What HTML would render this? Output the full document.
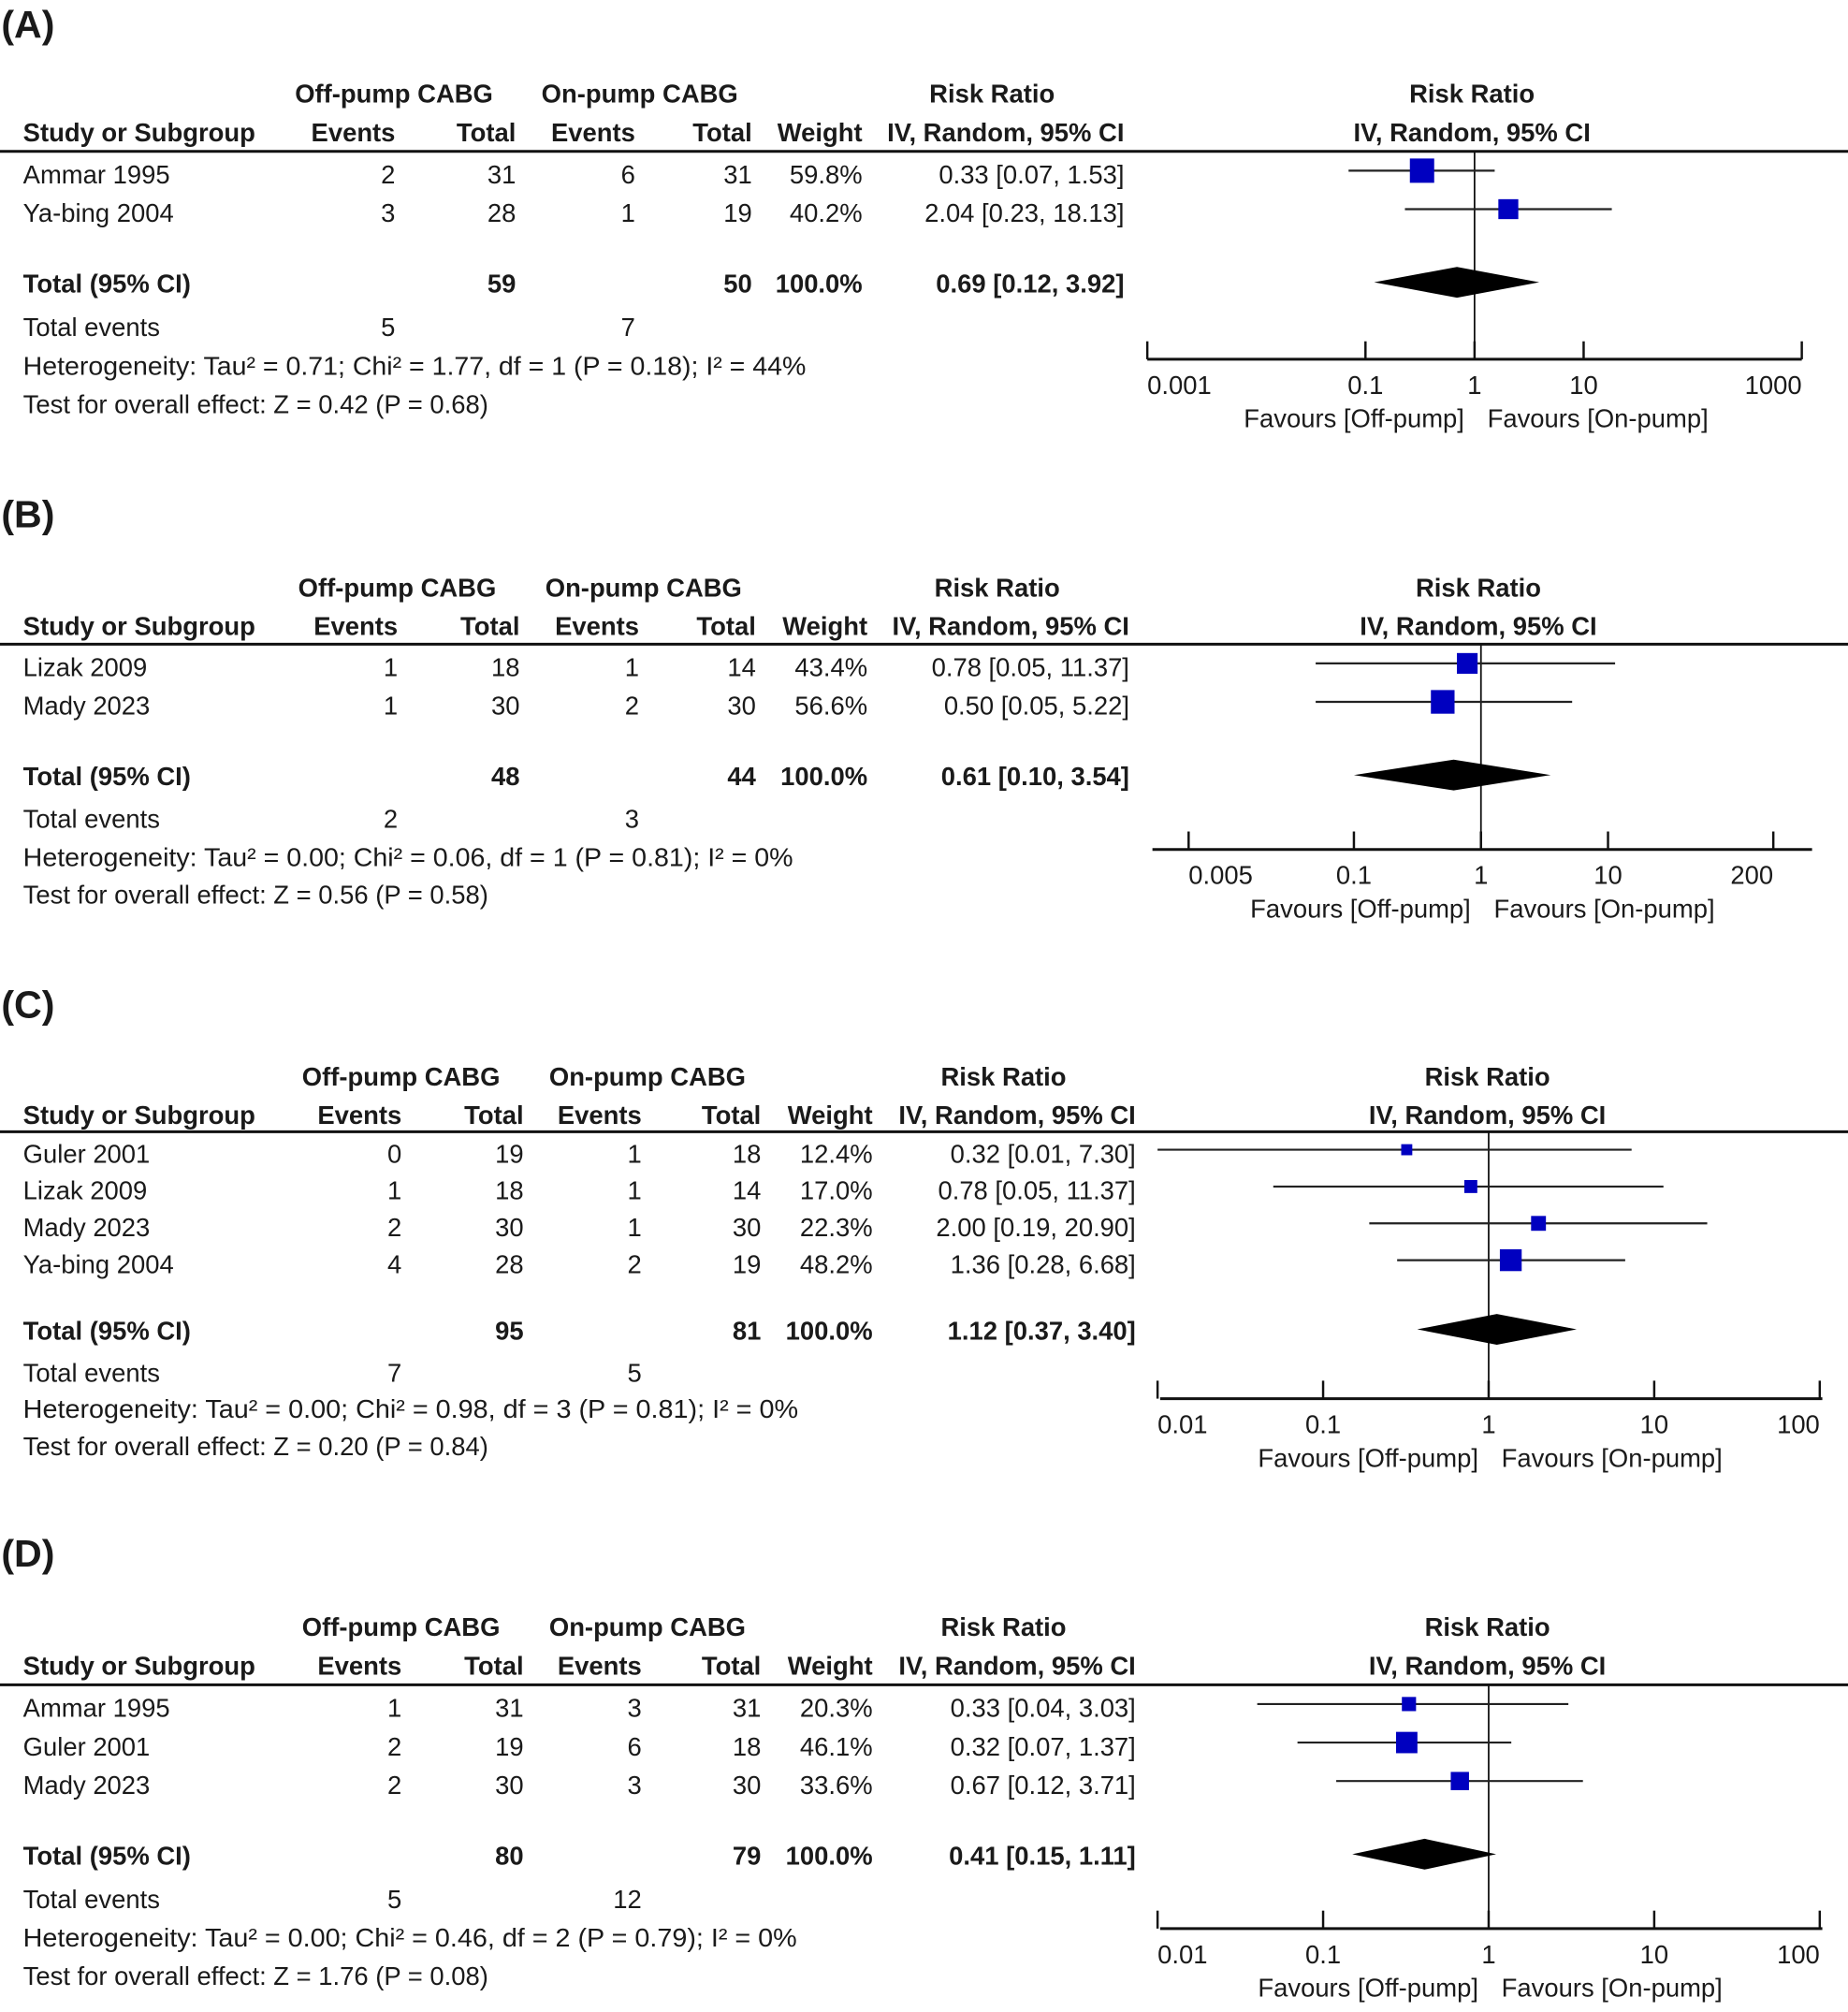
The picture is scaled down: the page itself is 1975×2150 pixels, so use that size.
<!DOCTYPE html>
<html><head><meta charset="utf-8"><style>
html,body{margin:0;padding:0;background:#fff;}
svg{display:block;}
text{font-family:"Liberation Sans",Arial,sans-serif;fill:#1a1a1a;font-size:20px;}
.b{font-weight:bold;}
</style></head><body>
<svg id="fig" width="1975" height="2150" viewBox="0 0 1440 1568" preserveAspectRatio="none" xmlns="http://www.w3.org/2000/svg"></svg>
<script>
// ---- Panel A data ----
const studiesA = ["Ammar 1995", "Ya-bing 2004"];
const offEvA = [2, 3]; const offTotA = [31, 28];
const onEvA = [6, 1]; const onTotA = [31, 19];
const weightA = [59.8, 40.2];
const rrA = [0.33, 2.04]; const lowA = [0.07, 0.23]; const highA = [1.53, 18.13];
const totA = [59, 50, 0.69, 0.12, 3.92]; const totEvA = [5, 7];
const ticksA = [0.001, 0.1, 1, 10, 1000];
const hetA = "Heterogeneity: Tau² = 0.71; Chi² = 1.77, df = 1 (P = 0.18); I² = 44%";
const testA = "Test for overall effect: Z = 0.42 (P = 0.68)";
// ---- Panel B data ----
const studiesB = ["Lizak 2009", "Mady 2023"];
const offEvB = [1, 1]; const offTotB = [18, 30];
const onEvB = [1, 2]; const onTotB = [14, 30];
const weightB = [43.4, 56.6];
const rrB = [0.78, 0.50]; const lowB = [0.05, 0.05]; const highB = [11.37, 5.22];
const totB = [48, 44, 0.61, 0.10, 3.54]; const totEvB = [2, 3];
const ticksB = [0.005, 0.1, 1, 10, 200];
const hetB = "Heterogeneity: Tau² = 0.00; Chi² = 0.06, df = 1 (P = 0.81); I² = 0%";
const testB = "Test for overall effect: Z = 0.56 (P = 0.58)";
// ---- Panel C data ----
const studiesC = ["Guler 2001", "Lizak 2009", "Mady 2023", "Ya-bing 2004"];
const offEvC = [0, 1, 2, 4]; const offTotC = [19, 18, 30, 28];
const onEvC = [1, 1, 1, 2]; const onTotC = [18, 14, 30, 19];
const weightC = [12.4, 17.0, 22.3, 48.2];
const rrC = [0.32, 0.78, 2.00, 1.36]; const lowC = [0.01, 0.05, 0.19, 0.28]; const highC = [7.30, 11.37, 20.90, 6.68];
const totC = [95, 81, 1.12, 0.37, 3.40]; const totEvC = [7, 5];
const ticksC = [0.01, 0.1, 1, 10, 100];
const hetC = "Heterogeneity: Tau² = 0.00; Chi² = 0.98, df = 3 (P = 0.81); I² = 0%";
const testC = "Test for overall effect: Z = 0.20 (P = 0.84)";
// ---- Panel D data ----
const studiesD = ["Ammar 1995", "Guler 2001", "Mady 2023"];
const offEvD = [1, 2, 2]; const offTotD = [31, 19, 30];
const onEvD = [3, 6, 3]; const onTotD = [31, 18, 30];
const weightD = [20.3, 46.1, 33.6];
const rrD = [0.33, 0.32, 0.67]; const lowD = [0.04, 0.07, 0.12]; const highD = [3.03, 1.37, 3.71];
const totD = [80, 79, 0.41, 0.15, 1.11]; const totEvD = [5, 12];
const ticksD = [0.01, 0.1, 1, 10, 100];
const hetD = "Heterogeneity: Tau² = 0.00; Chi² = 0.46, df = 2 (P = 0.79); I² = 0%";
const testD = "Test for overall effect: Z = 1.76 (P = 0.08)";

const NS = "http://www.w3.org/2000/svg";
const svg = document.getElementById("fig");
function mk(tag, attrs, parent, txt) {
  const e = document.createElementNS(NS, tag);
  for (const k in attrs) e.setAttribute(k, attrs[k]);
  if (txt !== undefined) e.textContent = txt;
  (parent || svg).appendChild(e);
  return e;
}
function f2(v){ return v.toFixed(2); }

const panels = [
  {id:"a", label:"(A)", ly:18, h1:73, line:118, r0:136, sp:30, tot:221, ev:255, het:285, test:315, hw:610,
   axY:280, ax0:894, ax1:1404, x1:1149, dec:85, cols:[308,402,495,586,672,876], rc:1147,
   st:studiesA, oe:offEvA, ot:offTotA, ne:onEvA, nt:onTotA, w:weightA, rr:rrA, lo:lowA, hi:highA, t:totA, te:totEvA, tk:ticksA, hs:hetA, ts:testA},
  {id:"b", label:"(B)", ly:400, h1:458, line:502, r0:520, sp:30, tot:605, ev:638, het:668, test:697, hw:600,
   axY:662, ax0:898, ax1:1412, x1:1154, dec:99, cols:[310,405,498,589,676,880], rc:1152,
   st:studiesB, oe:offEvB, ot:offTotB, ne:onEvB, nt:onTotB, w:weightB, rr:rrB, lo:lowB, hi:highB, t:totB, te:totEvB, tk:ticksB, hs:hetB, ts:testB},
  {id:"c", label:"(C)", ly:782, h1:839, line:882, r0:899, sp:28.7, tot:1037, ev:1070, het:1098, test:1127, hw:604,
   axY:1090, ax0:904, ax1:1420, x1:1160, dec:129, cols:[313,408,500,593,680,885], rc:1159,
   st:studiesC, oe:offEvC, ot:offTotC, ne:onEvC, nt:onTotC, w:weightC, rr:rrC, lo:lowC, hi:highC, t:totC, te:totEvC, tk:ticksC, hs:hetC, ts:testC},
  {id:"d", label:"(D)", ly:1210, h1:1268, line:1313, r0:1331, sp:30, tot:1446, ev:1480, het:1510, test:1540, hw:603,
   axY:1503, ax0:904, ax1:1420, x1:1160, dec:129, cols:[313,408,500,593,680,885], rc:1159,
   st:studiesD, oe:offEvD, ot:offTotD, ne:onEvD, nt:onTotD, w:weightD, rr:rrD, lo:lowD, hi:highD, t:totD, te:totEvD, tk:ticksD, hs:hetD, ts:testD}
];

panels.forEach(p => {
  const g = mk("g", {});
  
  
  const X = v => p.x1 + p.dec * Math.log10(v);
  const B = 7;
  const c = p.cols;
  const lab = mk("text", {x:1, y:p.ly+11, class:"b", style:"font-size:30px"}, g, p.label);
  
  
  const hdr = mk("g", {}, g);
  
  
  const h2 = p.h1 + 30;
  mk("text", {x:(c[0]+c[1])/2-48, y:p.h1+B, class:"b", "text-anchor":"middle"}, hdr, "Off-pump CABG");
  mk("text", {x:(c[2]+c[3])/2-42, y:p.h1+B, class:"b", "text-anchor":"middle"}, hdr, "On-pump CABG");
  mk("text", {x:c[5]-103, y:p.h1+B, class:"b", "text-anchor":"middle"}, hdr, "Risk Ratio");
  mk("text", {x:p.rc, y:p.h1+B, class:"b", "text-anchor":"middle"}, hdr, "Risk Ratio");
  mk("text", {x:18, y:h2+B, class:"b"}, hdr, "Study or Subgroup");
  mk("text", {x:c[0], y:h2+B, class:"b", "text-anchor":"end"}, hdr, "Events");
  mk("text", {x:c[1], y:h2+B, class:"b", "text-anchor":"end"}, hdr, "Total");
  mk("text", {x:c[2], y:h2+B, class:"b", "text-anchor":"end"}, hdr, "Events");
  mk("text", {x:c[3], y:h2+B, class:"b", "text-anchor":"end"}, hdr, "Total");
  mk("text", {x:c[4], y:h2+B, class:"b", "text-anchor":"end"}, hdr, "Weight");
  mk("text", {x:c[5], y:h2+B, class:"b", "text-anchor":"end"}, hdr, "IV, Random, 95% CI");
  mk("text", {x:p.rc, y:h2+B, class:"b", "text-anchor":"middle"}, hdr, "IV, Random, 95% CI");
  const dl = mk("line", {x1:0, x2:1440, y1:p.line, y2:p.line, stroke:"#111", "stroke-width":2.2}, g);
  
  
  const nl = mk("line", {x1:p.x1, x2:p.x1, y1:p.line, y2:p.axY, stroke:"#111", "stroke-width":1.3}, g);
  
  
  p.st.forEach((s, i) => {
    const y = p.r0 + i * p.sp;
    const row = mk("g", {}, g);
    
    
    mk("text", {x:18, y:y+B}, row, s);
    mk("text", {x:c[0], y:y+B, "text-anchor":"end"}, row, p.oe[i]);
    mk("text", {x:c[1], y:y+B, "text-anchor":"end"}, row, p.ot[i]);
    mk("text", {x:c[2], y:y+B, "text-anchor":"end"}, row, p.ne[i]);
    mk("text", {x:c[3], y:y+B, "text-anchor":"end"}, row, p.nt[i]);
    mk("text", {x:c[4], y:y+B, "text-anchor":"end"}, row, p.w[i].toFixed(1) + "%");
    mk("text", {x:c[5], y:y+B, "text-anchor":"end"}, row, f2(p.rr[i]) + " [" + f2(p.lo[i]) + ", " + f2(p.hi[i]) + "]");
    const ci = mk("line", {x1:X(p.lo[i]), x2:X(p.hi[i]), y1:y-3, y2:y-3, stroke:"#222", "stroke-width":1.6}, g);
    
    
    const sz = Math.sqrt(p.w[i]) * 2.45;
    const sq = mk("rect", {x:X(p.rr[i]) - sz/2, y:y-3-sz/2, width:sz, height:sz, fill:"#0000c0"}, g);
    
    
  });
  const tr = mk("g", {}, g);
  
  
  mk("text", {x:18, y:p.tot+B, class:"b"}, tr, "Total (95% CI)");
  mk("text", {x:c[1], y:p.tot+B, class:"b", "text-anchor":"end"}, tr, p.t[0]);
  mk("text", {x:c[3], y:p.tot+B, class:"b", "text-anchor":"end"}, tr, p.t[1]);
  mk("text", {x:c[4], y:p.tot+B, class:"b", "text-anchor":"end"}, tr, "100.0%");
  mk("text", {x:c[5], y:p.tot+B, class:"b", "text-anchor":"end"}, tr, f2(p.t[2]) + " [" + f2(p.t[3]) + ", " + f2(p.t[4]) + "]");
  const dy = p.tot - 1;
  const dm = mk("polygon", {points:[X(p.t[3])+","+dy, X(p.t[2])+","+(dy-12), X(p.t[4])+","+dy, X(p.t[2])+","+(dy+12)].join(" "), fill:"#000"}, g);
  
  
  const te = mk("g", {}, g);
  
  
  mk("text", {x:18, y:p.ev+B}, te, "Total events");
  mk("text", {x:c[0], y:p.ev+B, "text-anchor":"end"}, te, p.te[0]);
  mk("text", {x:c[2], y:p.ev+B, "text-anchor":"end"}, te, p.te[1]);
  const ht = mk("text", {x:18, y:p.het+B, textLength:p.hw, lengthAdjust:"spacingAndGlyphs"}, g, p.hs);
  
  
  const tt = mk("text", {x:18, y:p.test+B}, g, p.ts);
  
  
  const ax = mk("g", {}, g);
  
  
  mk("line", {x1:p.ax0, x2:p.ax1, y1:p.axY, y2:p.axY, stroke:"#111", "stroke-width":2.2}, ax);
  p.tk.forEach(v => {
    const x = X(v);
    mk("line", {x1:x, x2:x, y1:p.axY-14, y2:p.axY, stroke:"#111", "stroke-width":1.8}, ax);
    const t = mk("text", {x:x, y:p.axY+27, "text-anchor": v === p.tk[0] ? "start" : (v === p.tk[p.tk.length-1] ? "end" : "middle")}, ax, String(v));
    
    
  });
  const fl = mk("text", {x:p.x1-8, y:p.axY+53, "text-anchor":"end", fill:"#333"}, g, "Favours [Off-pump]");
  
  
  const fr = mk("text", {x:p.x1+10, y:p.axY+53, fill:"#333"}, g, "Favours [On-pump]");
  
  
});
</script>
</body></html>
